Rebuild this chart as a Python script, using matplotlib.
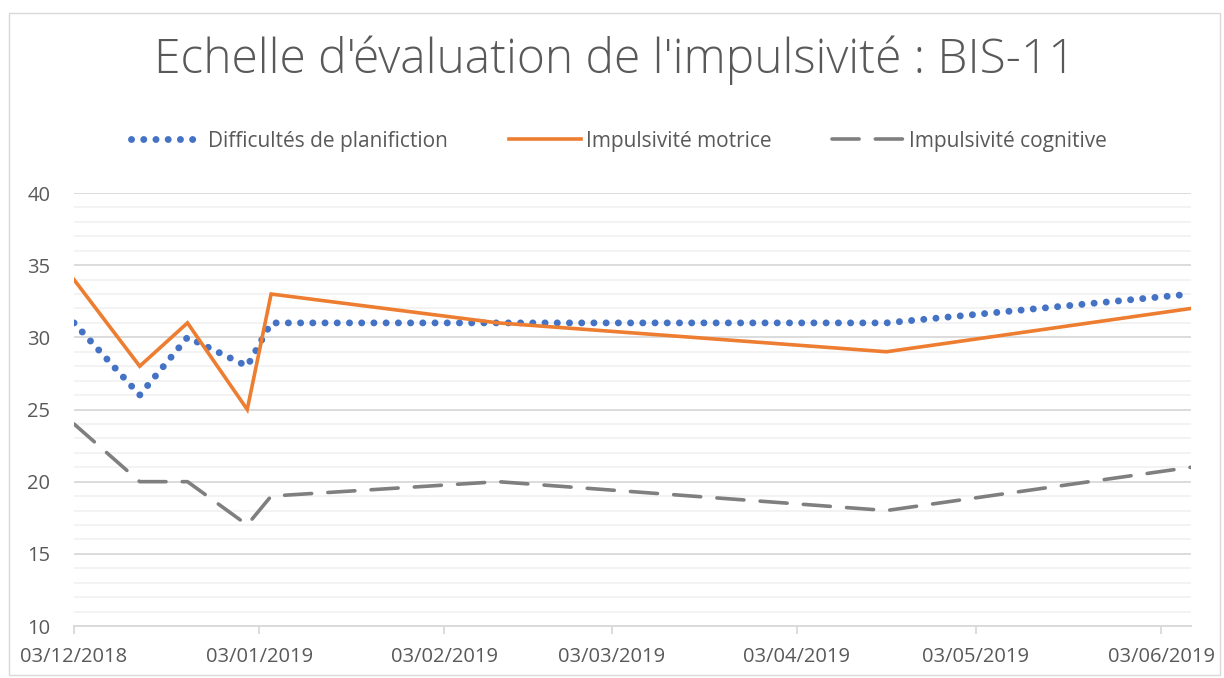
import matplotlib
matplotlib.use("Agg")
import matplotlib.pyplot as plt
import matplotlib.dates as mdates
from matplotlib.ticker import MultipleLocator
from matplotlib.patches import Rectangle
import datetime as dt

dates = ["2018-12-03", "2018-12-14", "2018-12-22", "2019-01-01", "2019-01-05",
         "2019-02-12", "2019-04-18", "2019-06-08"]
planification = [31, 26, 30, 28, 31, 31, 31, 33]
motrice = [34, 28, 31, 25, 33, 31, 29, 32]
cognitive = [24, 20, 20, 17, 19, 20, 18, 21]
series_names = ["Difficultés de planifiction", "Impulsivité motrice", "Impulsivité cognitive"]
title = "Echelle d'évaluation de l'impulsivité : BIS-11"
tick_dates = ["2018-12-03", "2019-01-03", "2019-02-03", "2019-03-03",
              "2019-04-03", "2019-05-03", "2019-06-03"]

x = [dt.datetime.strptime(d, "%Y-%m-%d") for d in dates]
xt = [dt.datetime.strptime(d, "%Y-%m-%d") for d in tick_dates]

plt.rcParams['font.family'] = ['Open Sans', 'DejaVu Sans']
txt = '#595959'

fig = plt.figure(figsize=(12.24, 6.78), dpi=100)
fig.patches.append(Rectangle((9 / 1224, 1 - 675 / 678), (1220 - 9) / 1224, (675 - 13) / 678,
                             transform=fig.transFigure, fill=False, edgecolor='#D9D9D9', lw=1.0))
ax = fig.add_axes([74 / 1224, 1 - 626 / 678, (1191 - 74) / 1224, (626 - 193) / 678])

ax.plot(x, planification, color='#4472C4', lw=5, linestyle=(0, (0.01, 1.75)),
        dash_capstyle='round', label=series_names[0], zorder=3)
ax.plot(x, motrice, color='#ED7D31', lw=2.6, solid_joinstyle='miter',
        label=series_names[1], zorder=3)
ax.plot(x, cognitive, color='#7F7F7F', lw=2.6, linestyle=(0, (7.5, 4.5)),
        dash_capstyle='round', label=series_names[2], zorder=3)

ax.set_ylim(10, 40)
ax.set_xlim(x[0], x[-1])
ax.yaxis.set_major_locator(MultipleLocator(5))
ax.yaxis.set_minor_locator(MultipleLocator(1))
ax.set_xticks(xt)
ax.xaxis.set_major_formatter(mdates.DateFormatter('%d/%m/%Y'))
ax.grid(axis='y', which='major', color='#D9D9D9', lw=1.3, zorder=0)
ax.grid(axis='y', which='minor', color='#F2F2F2', lw=1.3, zorder=0)
ax.set_axisbelow(True)
for s in ['top', 'right', 'left']:
    ax.spines[s].set_visible(False)
ax.spines['bottom'].set_color('#D9D9D9')
ax.spines['bottom'].set_linewidth(1.3)
ax.tick_params(axis='x', which='major', length=6, width=1.3, color='#D9D9D9',
               labelsize=14.5, labelcolor=txt, pad=9)
ax.tick_params(axis='y', which='both', length=0, labelsize=14.5, labelcolor=txt, pad=17)
for lab in ax.get_xticklabels():
    lab.set_clip_on(False)

fig.text(0.502, 1 - 60 / 678, title, ha='center', va='center', fontsize=34.5,
         color=txt, fontweight='light')

fig.legend(loc='center', bbox_to_anchor=(619 / 1224, 1 - 141 / 678), ncol=3,
           frameon=False, fontsize=15, labelcolor=txt, handlelength=3.46,
           handletextpad=0.25, columnspacing=2.9)

fig.savefig('out.png', dpi=100)
